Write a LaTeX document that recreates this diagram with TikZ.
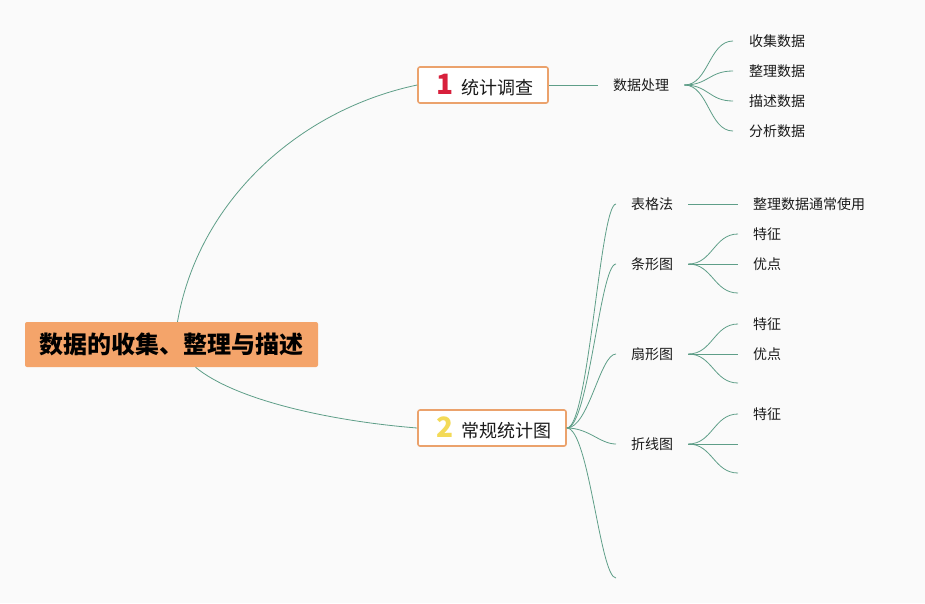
\documentclass[tikz,border=0pt]{standalone}
\usepackage{fontspec}
\setmainfont{Noto Sans CJK SC}
\usepackage{tikz}
\usetikzlibrary{positioning}
\usepackage{xcolor}
\definecolor{Branch}{HTML}{5E9E88}
\definecolor{RootFill}{HTML}{F4A46A}
\definecolor{BoxEdge}{HTML}{EBA26C}
\definecolor{OneRed}{HTML}{D8203C}
\definecolor{TwoYellow}{HTML}{F3DA57}
\definecolor{Canvas}{HTML}{FAFAFA}
\definecolor{Ink}{HTML}{1A1A1A}
\tikzset{%
  root_block/.style={%
    rectangle,%
    rounded corners=2pt,%
    fill=RootFill,%
    minimum width=293pt,%
    minimum height=45pt,%
    font={\bfseries\fontsize{24}{28}\selectfont},%
    text=black,%
    align=center%
  },
  main_block/.style={%
    rectangle,%
    rounded corners=2pt,%
    draw=BoxEdge,%
    line width=1.6pt,%
    fill=white,%
    minimum height=36pt,%
    font={\fontsize{18}{22}\selectfont},%
    text=Ink,%
    align=center%
  },
  topic/.style={%
    inner xsep=15pt,%
    inner ysep=2pt,%
    anchor=west,%
    text=Ink,%
    font={\fontsize{14}{16}\selectfont},%
  },
  leaf/.style={%
    topic,%
    inner xsep=16pt,%
  },
  smooth_path/.style={%
    draw=Branch,%
    line width=0.8pt,%
    line join=round,%
  },
}
\newcommand{\bignum}[2]{\textcolor{#1}{\fontsize{28}{28}\bfseries #2}\hspace{8pt}}

\begin{document}
\begin{tikzpicture}[x=1pt, y=-1pt]
    \path [fill=Canvas] (0,0) rectangle (925,603);

    \node [root_block] (Root) at (171.5,344.5) {数据的收集、整理与描述};
    \node [main_block, minimum width=130pt] (Survey) at (483,85)
      {\hspace{4pt}\bignum{OneRed}{1}统计调查};
    \node [main_block, minimum width=148pt] (Charts) at (492,428)
      {\hspace{4pt}\bignum{TwoYellow}{2}常规统计图};

    % first branch
    \node [topic] (DataProc) at (598,85) {数据处理};
    \node [leaf] (Collect) at (733,41) {收集数据};
    \node [leaf] (Arrange) at (733,71) {整理数据};
    \node [leaf] (Describe) at (733,101) {描述数据};
    \node [leaf] (Analyse) at (733,131) {分析数据};

    % second branch
    \node [topic] (Table) at (616,204) {表格法};
    \node [topic] (Bar) at (616,264) {条形图};
    \node [topic] (Pie) at (616,354) {扇形图};
    \node [topic] (Line) at (616,444) {折线图};
    \coordinate (ChartsEnd) at (616,578);

    \node [leaf, inner xsep=15pt] (TableUse) at (738,204) {整理数据通常使用};
    \node [leaf, inner xsep=15pt] (BarFeat) at (738,234) {特征};
    \node [leaf, inner xsep=15pt] (BarGood) at (738,264) {优点};
    \coordinate (BarEnd) at (738,293);
    \node [leaf, inner xsep=15pt] (PieFeat) at (738,324) {特征};
    \node [leaf, inner xsep=15pt] (PieGood) at (738,354) {优点};
    \coordinate (PieEnd) at (738,383);
    \node [leaf, inner xsep=15pt] (LineFeat) at (738,414) {特征};
    \coordinate (LineMid) at (738,444);
    \coordinate (LineEnd) at (738,473);

    % root to main topics
    \draw [smooth_path]
      ([xshift=6pt]Root.north)
      .. controls (198,202) and (298,110) ..
      (Survey.west);
    \draw [smooth_path]
      ([xshift=24pt]Root.south)
      .. controls (235,400) and (330,421) ..
      (Charts.west);

    % survey
    \draw [smooth_path] (Survey.east) -- (DataProc.west);
    \foreach \target in {Collect, Arrange, Describe, Analyse}
      \draw [smooth_path]
        (DataProc.east)
        .. controls +(24,0) and +(-24,0) ..
        (\target.west);

    % charts
    \foreach \target in {Table.west, Bar.west, Pie.west, Line.west, ChartsEnd}
      \draw [smooth_path]
        (Charts.east)
        .. controls +(22,0) and +(-16,0) ..
        (\target);
    \draw [smooth_path] (Table.east) -- (TableUse.west);
    \foreach \from/\target in {Bar/BarFeat.west, Bar/BarGood.west, Bar/BarEnd,
        Pie/PieFeat.west, Pie/PieGood.west, Pie/PieEnd,
        Line/LineFeat.west, Line/LineMid, Line/LineEnd}
      \draw [smooth_path]
        (\from.east)
        .. controls +(24,0) and +(-24,0) ..
        (\target);
  \end{tikzpicture}
\end{document}
